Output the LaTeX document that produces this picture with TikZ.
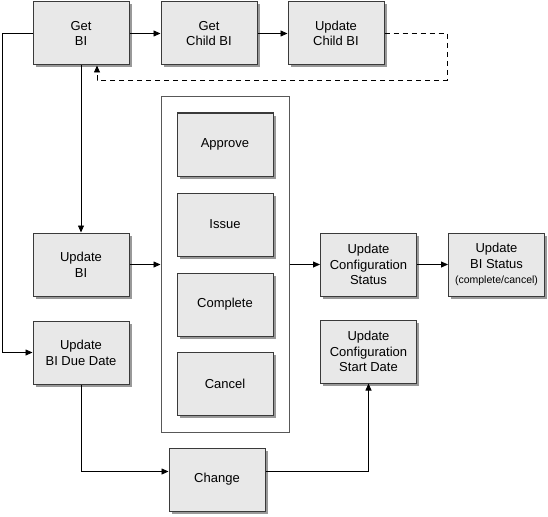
\documentclass[tikz,border=0pt]{standalone}
\usepackage{fontspec}
\setmainfont{Liberation Sans}
\usetikzlibrary{arrows.meta,shadows}
\definecolor{boxfill}{HTML}{E8E8E8}
\definecolor{boxline}{HTML}{3A3A3A}
\tikzset{
  x=1pt,y=-1pt,
  proc/.style={draw=boxline,line width=1pt,fill=boxfill,minimum width=96pt,minimum height=63pt,
    inner sep=0pt,align=center,font=\fontsize{13}{15.7}\selectfont,
    drop shadow={shadow xshift=2.5pt,shadow yshift=-2.5pt,fill=black!40,opacity=1}},
  cont/.style={draw=boxline!85,line width=1pt,minimum width=128pt,minimum height=335pt,inner sep=0pt},
  conn/.style={draw=black,line width=0.8pt,-{Triangle[length=7pt,width=6pt]}},
  dconn/.style={conn,dashed,dash pattern=on 5pt off 4pt}
}
\begin{document}
\begin{tikzpicture}
\useasboundingbox (0,0) rectangle (548,516);
\node[cont] (box) at (225,264.5) {};
\node[proc] (getbi) at (81,33.5) {Get\\BI};
\node[proc] (getchild) at (209,33.5) {Get\\Child BI};
\node[proc] (updchild) at (336,33.5) {Update\\Child BI};
\node[proc] (approve) at (225,144.5) {Approve};
\node[proc] (issue) at (225,224.5) {Issue};
\node[proc] (complete) at (225,304.5) {Complete};
\node[proc] (cancel) at (225,384) {Cancel};
\node[proc] (updbi) at (81,264.5) {Update\\BI};
\node[proc] (duedate) at (81,352.5) {Update\\BI Due Date};
\node[proc] (cfgstatus) at (368.5,264.5) {Update\\Configuration\\Status};
\node[proc] (bistatus) at (496.5,264.5) {Update\\BI Status\\{\fontsize{10.5}{13}\selectfont(complete/cancel)}};
\node[proc] (cfgstart) at (368.5,351.5) {Update\\Configuration\\Start Date};
\node[proc] (change) at (217,479.5) {Change};
\coordinate (l1) at (2,33.5);
\coordinate (d1) at (447,33.5);
\coordinate (d2) at (447,80);
\coordinate (d3) at (97,80);
\draw[conn] (getbi) -- (getchild);
\draw[conn] (getchild) -- (updchild);
\draw[dconn] (updchild.east) -- (d1) -- (d2) -- (d3) -- (d3 |- getbi.south);
\draw[conn] (getbi.west) -- (l1) |- (duedate.west);
\draw[conn] (getbi) -- (updbi);
\draw[conn] (updbi) -- (updbi -| box.west);
\draw[conn] (box.east |- cfgstatus) -- (cfgstatus);
\draw[conn] (cfgstatus) -- (bistatus);
\draw[conn] (duedate.south) |- ([yshift=8pt]change.west);
\draw[conn] ([yshift=8pt]change.east) -| (cfgstart.south);
\end{tikzpicture}
\end{document}
